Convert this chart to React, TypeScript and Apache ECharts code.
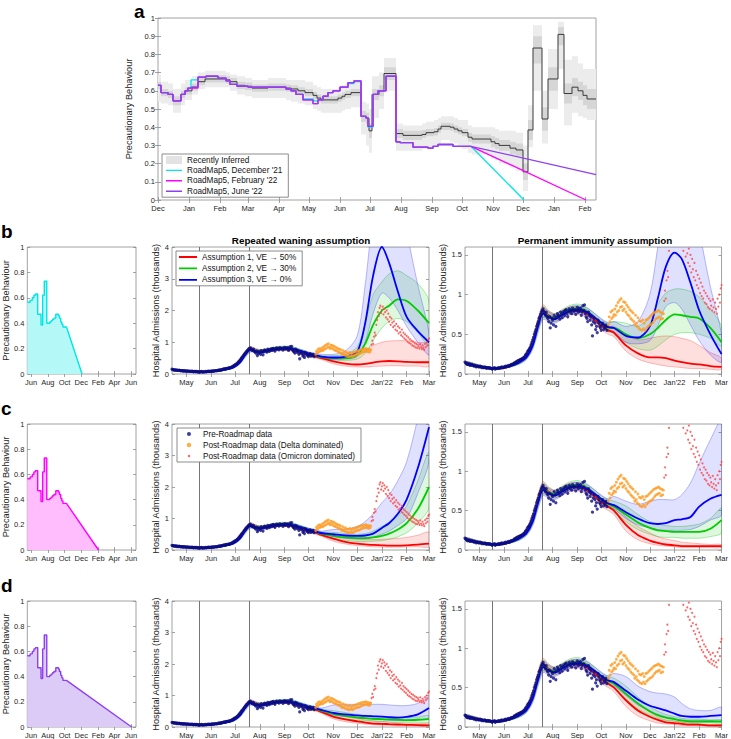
import React, { useEffect, useRef } from 'react';
import * as echarts from 'echarts';

const FONT = "'Liberation Sans', Arial, Helvetica, sans-serif";
const BOX = '#8c8c8c';
const INK = '#262626';

// ---------------- Panel a ----------------
const aMonthDays = [0, 31, 62, 90, 121, 151, 182, 212, 243, 274, 304, 335, 365, 396, 427];
const aMonthLabels = ['Dec', 'Jan', 'Feb', 'Mar', 'Apr', 'May', 'Jun', 'Jul', 'Aug', 'Sep', 'Oct', 'Nov', 'Dec', 'Jan', 'Feb'];
const aYTicks = [0, 0.1, 0.2, 0.3, 0.4, 0.5, 0.6, 0.7, 0.8, 0.9, 1];

const aDays = [0, 3, 10, 15, 23, 27, 34, 40, 47, 68,
  72, 79, 87, 94, 110, 128, 133, 140, 147, 155,
  159, 163, 180, 184, 187, 193, 203, 208, 211, 214,
  221, 226, 238, 245, 264, 268, 276, 280, 283, 292,
  296, 300, 304, 310, 314, 333, 337, 341, 352, 358,
  365, 370, 375, 384, 390, 400, 406, 414, 420, 425,
  429, 438];
const aInferred = [0.63, 0.59, 0.58, 0.545, 0.58, 0.60, 0.62, 0.65, 0.665, 0.66,
  0.65, 0.63, 0.625, 0.615, 0.62, 0.615, 0.61, 0.60, 0.59, 0.575,
  0.56, 0.55, 0.56, 0.57, 0.58, 0.59, 0.46, 0.45, 0.38, 0.58,
  0.60, 0.695, 0.365, 0.355, 0.36, 0.37, 0.375, 0.39, 0.405, 0.40,
  0.39, 0.38, 0.37, 0.345, 0.335, 0.32, 0.31, 0.30, 0.285, 0.275,
  0.155, 0.385, 0.835, 0.445, 0.665, 0.91, 0.585, 0.62, 0.60, 0.575,
  0.555, 0.555];
const aOuterLo = [0.54, 0.53, 0.52, 0.48, 0.52, 0.55, 0.58, 0.61, 0.62, 0.62,
  0.60, 0.58, 0.57, 0.56, 0.56, 0.55, 0.54, 0.53, 0.52, 0.50,
  0.49, 0.48, 0.48, 0.49, 0.50, 0.51, 0.36, 0.30, 0.26, 0.45,
  0.50, 0.60, 0.27, 0.27, 0.28, 0.29, 0.30, 0.31, 0.33, 0.32,
  0.31, 0.30, 0.28, 0.26, 0.25, 0.23, 0.22, 0.20, 0.18, 0.16,
  0.05, 0.29, 0.60, 0.31, 0.50, 0.72, 0.41, 0.48, 0.46, 0.45,
  0.44, 0.44];
const aOuterHi = [0.69, 0.65, 0.64, 0.61, 0.64, 0.66, 0.68, 0.70, 0.71, 0.70,
  0.69, 0.68, 0.67, 0.66, 0.67, 0.66, 0.66, 0.66, 0.65, 0.63,
  0.62, 0.61, 0.62, 0.63, 0.64, 0.65, 0.54, 0.53, 0.50, 0.68,
  0.70, 0.78, 0.42, 0.41, 0.42, 0.43, 0.44, 0.45, 0.46, 0.46,
  0.45, 0.44, 0.44, 0.41, 0.40, 0.40, 0.39, 0.38, 0.38, 0.37,
  0.30, 0.52, 0.96, 0.60, 0.83, 0.98, 0.77, 0.79, 0.75, 0.72,
  0.72, 0.72];
const aInnerLo = [0.61, 0.57, 0.56, 0.52, 0.56, 0.58, 0.60, 0.63, 0.645, 0.64,
  0.63, 0.61, 0.605, 0.595, 0.60, 0.595, 0.59, 0.58, 0.57, 0.555,
  0.54, 0.53, 0.54, 0.55, 0.56, 0.57, 0.43, 0.42, 0.34, 0.55,
  0.57, 0.66, 0.34, 0.33, 0.34, 0.35, 0.355, 0.37, 0.385, 0.38,
  0.37, 0.36, 0.35, 0.32, 0.31, 0.29, 0.28, 0.27, 0.25, 0.24,
  0.11, 0.33, 0.75, 0.38, 0.60, 0.85, 0.53, 0.57, 0.55, 0.52,
  0.50, 0.50];
const aInnerHi = [0.65, 0.61, 0.60, 0.57, 0.60, 0.62, 0.64, 0.67, 0.685, 0.68,
  0.67, 0.65, 0.645, 0.635, 0.64, 0.635, 0.63, 0.62, 0.61, 0.595,
  0.58, 0.57, 0.58, 0.59, 0.60, 0.61, 0.49, 0.48, 0.42, 0.61,
  0.63, 0.73, 0.39, 0.38, 0.385, 0.39, 0.395, 0.41, 0.425, 0.42,
  0.41, 0.40, 0.39, 0.37, 0.36, 0.35, 0.34, 0.33, 0.32, 0.31,
  0.20, 0.44, 0.90, 0.51, 0.73, 0.95, 0.64, 0.67, 0.65, 0.63,
  0.61, 0.61];

const rmDays = [0, 3, 10, 15, 23, 27, 30, 33, 40, 48,
  60, 68, 72, 79, 90, 120, 128, 133, 138, 145,
  155, 160, 165, 170, 175, 182, 190, 196, 203, 208,
  210, 215, 220, 228, 238, 242, 255, 270, 275, 280,
  295, 313];
const rmCyan = [0.63, 0.59, 0.58, 0.545, 0.58, 0.60, 0.615, 0.66, 0.675, 0.68,
  0.67, 0.655, 0.635, 0.625, 0.62, 0.62, 0.61, 0.60, 0.58, 0.555,
  0.545, 0.55, 0.57, 0.59, 0.60, 0.62, 0.64, 0.65, 0.46, 0.45,
  0.40, 0.58, 0.60, 0.68, 0.32, 0.315, 0.29, 0.285, 0.295, 0.305,
  0.295, 0.295];
const rmMagenta = [0.63, 0.59, 0.58, 0.545, 0.58, 0.60, 0.615, 0.615, 0.675, 0.68,
  0.67, 0.655, 0.635, 0.625, 0.62, 0.62, 0.61, 0.60, 0.58, 0.55,
  0.53, 0.55, 0.57, 0.59, 0.60, 0.62, 0.645, 0.655, 0.46, 0.45,
  0.405, 0.58, 0.60, 0.68, 0.32, 0.315, 0.29, 0.285, 0.295, 0.305,
  0.295, 0.295];
const rmPurple = [0.63, 0.59, 0.58, 0.545, 0.58, 0.60, 0.615, 0.62, 0.675, 0.68,
  0.67, 0.655, 0.635, 0.625, 0.62, 0.62, 0.61, 0.60, 0.58, 0.55,
  0.53, 0.55, 0.57, 0.59, 0.60, 0.62, 0.645, 0.655, 0.46, 0.45,
  0.405, 0.58, 0.60, 0.68, 0.32, 0.315, 0.29, 0.285, 0.295, 0.305,
  0.295, 0.295];
const projCyanDays = [313, 366];
const projCyanVals = [0.295, 0];
const projMagentaDays = [313, 428];
const projMagentaVals = [0.295, 0];
const projPurpleDays = [313, 438];
const projPurpleVals = [0.295, 0.14];

// ---------------- Left panels (b, c, d) ----------------
const leftMonthDays = [182, 243, 304, 365, 427, 486, 547];
const leftMonthLabels = ['Jun', 'Aug', 'Oct', 'Dec', 'Feb', 'Apr', 'Jun'];
const leftYTicks = [0, 0.2, 0.4, 0.6, 0.8, 1];
const leftDays = [168, 178, 186, 192, 198, 206, 218, 224, 230, 239, 250, 255, 260, 265, 272, 282, 285, 290, 294, 298, 311];
const leftVals = [0.565, 0.58, 0.60, 0.62, 0.63, 0.47, 0.385, 0.62, 0.73, 0.40, 0.41, 0.42, 0.43, 0.44, 0.47, 0.46, 0.44, 0.41, 0.39, 0.37, 0.37];
const leftEndB = [311, 368];
const leftEndC = [311, 428];
const leftEndD = [311, 549];
const leftEndVals = [0.37, 0];

// ---------------- Hospital admissions panels ----------------
const hMonthDays = [151, 182, 212, 243, 274, 304, 335, 365, 396, 427, 455];
const hMonthLabels = ['May', 'Jun', 'Jul', 'Aug', 'Sep', 'Oct', 'Nov', 'Dec', "Jan'22", 'Feb', 'Mar'];
const midYTicks = [0, 1, 2, 3, 4];
const rightYTicks = [0, 0.5, 1, 1.5];
const stepDays = [167, 230];

const preStart = 133;
const preData = [0.15, 0.14, 0.13, 0.12, 0.12, 0.13, 0.11, 0.12, 0.11, 0.12,
  0.11, 0.10, 0.11, 0.10, 0.09, 0.10, 0.10, 0.09, 0.09, 0.10,
  0.09, 0.08, 0.09, 0.08, 0.08, 0.09, 0.08, 0.07, 0.08, 0.08,
  0.07, 0.08, 0.07, 0.07, 0.06, 0.07, 0.07, 0.08, 0.06, 0.07,
  0.07, 0.07, 0.08, 0.07, 0.08, 0.08, 0.09, 0.08, 0.08, 0.09,
  0.09, 0.10, 0.09, 0.10, 0.10, 0.11, 0.10, 0.11, 0.12, 0.12,
  0.12, 0.13, 0.14, 0.14, 0.15, 0.16, 0.15, 0.17, 0.17, 0.18,
  0.18, 0.19, 0.19, 0.20, 0.21, 0.22, 0.24, 0.25, 0.27, 0.29,
  0.30, 0.32, 0.34, 0.37, 0.40, 0.43, 0.46, 0.50, 0.53, 0.56,
  0.60, 0.63, 0.66, 0.70, 0.72, 0.75, 0.78, 0.80, 0.82, 0.79,
  0.76, 0.74, 0.78, 0.72, 0.70, 0.66, 0.72, 0.58, 0.64, 0.70,
  0.68, 0.62, 0.74, 0.70, 0.60, 0.72, 0.76, 0.74, 0.73, 0.69,
  0.78, 0.75, 0.71, 0.77, 0.79, 0.74, 0.80, 0.81, 0.76, 0.72,
  0.79, 0.82, 0.78, 0.80, 0.76, 0.83, 0.80, 0.79, 0.81, 0.75,
  0.80, 0.84, 0.78, 0.82, 0.79, 0.83, 0.74, 0.78, 0.86, 0.80,
  0.87, 0.76, 0.72, 0.70, 0.66, 0.78, 0.74, 0.68, 0.72, 0.62,
  0.48, 0.66, 0.70, 0.64, 0.56, 0.60, 0.52, 0.68, 0.64, 0.60,
  0.58, 0.55, 0.62, 0.64, 0.56, 0.60, 0.58, 0.62, 0.55, 0.60];
const deltaStart = 313;
const deltaData = [0.62, 0.72, 0.66, 0.78, 0.70, 0.80, 0.72, 0.75, 0.82, 0.74,
  0.86, 0.78, 0.90, 0.80, 0.93, 0.84, 0.95, 0.85, 0.80, 0.91,
  0.82, 0.90, 0.78, 0.87, 0.75, 0.84, 0.73, 0.81, 0.70, 0.79,
  0.68, 0.77, 0.66, 0.62, 0.74, 0.64, 0.60, 0.71, 0.58, 0.67,
  0.56, 0.66, 0.55, 0.68, 0.57, 0.64, 0.55, 0.68, 0.58, 0.69,
  0.60, 0.71, 0.62, 0.73, 0.63, 0.75, 0.65, 0.77, 0.68, 0.78,
  0.70, 0.79, 0.71, 0.80, 0.72, 0.78, 0.69, 0.77, 0.70, 0.76];
const omicronStart = 383;
const omicronData = [0.92, 1.05, 0.95, 1.18, 1.30, 1.22, 1.55, 1.70, 1.95, 1.82,
  2.08, 2.15, 1.92, 2.02, 2.12, 1.88, 2.05, 1.95, 1.78, 2.00,
  1.72, 1.90, 1.65, 1.80, 1.55, 1.75, 1.62, 1.48, 1.66, 1.52,
  1.40, 1.58, 1.36, 1.50, 1.28, 1.45, 1.32, 1.22, 1.40, 1.18,
  1.30, 1.12, 1.25, 1.08, 1.20, 1.02, 1.15, 0.98, 1.10, 0.95,
  1.05, 0.90, 1.02, 0.88, 0.98, 0.84, 0.95, 0.82, 0.92, 0.86,
  0.80, 0.94, 0.84, 0.78, 0.90, 0.82, 0.76, 0.95, 0.85, 1.00,
  0.90, 1.08, 1.12];

// model fit (shared pre-October segment)
const fitDays = [133, 145, 160, 175, 190, 200, 210, 218, 225, 231, 238, 246, 256, 266, 276, 286, 296, 305, 313];
const fitRed = [0.14, 0.11, 0.08, 0.07, 0.10, 0.15, 0.23, 0.40, 0.65, 0.80, 0.74, 0.71, 0.76, 0.80, 0.80, 0.76, 0.68, 0.60, 0.55];
const fitRedLo = [0.12, 0.10, 0.07, 0.06, 0.09, 0.13, 0.20, 0.35, 0.58, 0.72, 0.68, 0.66, 0.71, 0.75, 0.75, 0.71, 0.63, 0.55, 0.50];
const fitRedHi = [0.16, 0.13, 0.09, 0.08, 0.11, 0.17, 0.26, 0.45, 0.72, 0.87, 0.80, 0.76, 0.81, 0.85, 0.85, 0.81, 0.73, 0.65, 0.60];
const fitGreen = [0.14, 0.11, 0.08, 0.07, 0.10, 0.14, 0.22, 0.38, 0.63, 0.78, 0.73, 0.71, 0.77, 0.82, 0.83, 0.79, 0.71, 0.63, 0.58];
const fitGreenLo = [0.12, 0.10, 0.07, 0.06, 0.09, 0.12, 0.19, 0.33, 0.56, 0.71, 0.68, 0.66, 0.72, 0.77, 0.78, 0.74, 0.66, 0.58, 0.53];
const fitGreenHi = [0.16, 0.13, 0.09, 0.08, 0.11, 0.16, 0.25, 0.43, 0.70, 0.85, 0.79, 0.76, 0.82, 0.87, 0.88, 0.84, 0.76, 0.68, 0.64];
const fitBlue = [0.14, 0.11, 0.08, 0.07, 0.10, 0.14, 0.21, 0.36, 0.61, 0.76, 0.72, 0.69, 0.75, 0.80, 0.81, 0.78, 0.71, 0.64, 0.59];
const fitBlueLo = [0.12, 0.10, 0.07, 0.06, 0.09, 0.12, 0.18, 0.31, 0.53, 0.69, 0.66, 0.64, 0.70, 0.75, 0.76, 0.73, 0.66, 0.59, 0.54];
const fitBlueHi = [0.16, 0.13, 0.09, 0.08, 0.11, 0.16, 0.24, 0.41, 0.68, 0.83, 0.78, 0.74, 0.80, 0.85, 0.86, 0.83, 0.76, 0.69, 0.65];

// projections (from mid-October)
const projDays = [320, 335, 350, 365, 375, 385, 396, 405, 416, 427, 441, 455];

const bMidRed = [0.50, 0.40, 0.33, 0.30, 0.32, 0.36, 0.40, 0.41, 0.40, 0.38, 0.37, 0.37];
const bMidRedLo = [0.46, 0.32, 0.25, 0.22, 0.22, 0.24, 0.25, 0.26, 0.26, 0.25, 0.25, 0.25];
const bMidRedHi = [0.56, 0.50, 0.50, 0.60, 0.75, 0.90, 1.00, 1.04, 1.05, 1.05, 1.00, 0.92];
const bMidGreen = [0.53, 0.50, 0.50, 0.60, 0.95, 1.55, 2.00, 2.15, 2.35, 2.30, 2.00, 1.60];
const bMidGreenLo = [0.49, 0.44, 0.43, 0.47, 0.65, 1.05, 1.45, 1.65, 1.75, 1.65, 1.30, 0.90];
const bMidGreenHi = [0.58, 0.58, 0.62, 0.85, 1.60, 2.50, 2.90, 3.15, 3.25, 3.10, 2.85, 2.30];
const bMidBlue = [0.55, 0.52, 0.55, 0.70, 1.60, 3.10, 4.00, 3.50, 2.60, 1.80, 1.35, 1.00];
const bMidBlueLo = [0.50, 0.45, 0.47, 0.55, 1.00, 1.90, 2.55, 2.40, 2.00, 1.50, 1.00, 0.60];
const bMidBlueHi = [0.62, 0.62, 0.72, 1.20, 2.80, 5.00, 6.50, 6.50, 6.00, 4.50, 2.80, 1.30];

const bRightRed = [0.52, 0.36, 0.26, 0.21, 0.21, 0.20, 0.17, 0.15, 0.13, 0.12, 0.10, 0.09];
const bRightRedLo = [0.47, 0.29, 0.19, 0.14, 0.12, 0.10, 0.09, 0.08, 0.07, 0.07, 0.06, 0.06];
const bRightRedHi = [0.60, 0.50, 0.43, 0.45, 0.47, 0.48, 0.47, 0.45, 0.42, 0.36, 0.27, 0.20];
const bRightGreen = [0.58, 0.50, 0.45, 0.50, 0.58, 0.68, 0.75, 0.74, 0.72, 0.70, 0.58, 0.40];
const bRightGreenLo = [0.52, 0.40, 0.32, 0.30, 0.35, 0.43, 0.50, 0.52, 0.52, 0.50, 0.45, 0.35];
const bRightGreenHi = [0.66, 0.64, 0.60, 0.72, 0.88, 1.02, 1.07, 1.07, 1.04, 0.97, 0.82, 0.60];
const bRightBlue = [0.58, 0.48, 0.46, 0.60, 0.95, 1.35, 1.53, 1.45, 1.15, 0.80, 0.50, 0.25];
const bRightBlueLo = [0.52, 0.40, 0.38, 0.42, 0.60, 0.85, 0.90, 0.82, 0.62, 0.42, 0.24, 0.15];
const bRightBlueHi = [0.66, 0.60, 0.66, 1.00, 1.60, 2.20, 2.50, 2.50, 2.30, 1.80, 1.10, 0.50];

const cMidRed = [0.48, 0.36, 0.26, 0.20, 0.18, 0.16, 0.15, 0.14, 0.14, 0.15, 0.17, 0.20];
const cMidRedLo = [0.44, 0.28, 0.19, 0.14, 0.12, 0.10, 0.09, 0.09, 0.09, 0.10, 0.10, 0.11];
const cMidRedHi = [0.54, 0.46, 0.40, 0.35, 0.34, 0.33, 0.34, 0.35, 0.37, 0.40, 0.47, 0.56];
const cMidGreen = [0.52, 0.45, 0.40, 0.38, 0.38, 0.40, 0.45, 0.52, 0.65, 0.85, 1.30, 2.00];
const cMidGreenLo = [0.48, 0.36, 0.30, 0.27, 0.27, 0.28, 0.30, 0.34, 0.42, 0.55, 0.85, 1.35];
const cMidGreenHi = [0.57, 0.56, 0.52, 0.50, 0.52, 0.60, 0.75, 0.88, 1.08, 1.40, 2.20, 3.10];
const cMidBlue = [0.54, 0.50, 0.46, 0.45, 0.46, 0.52, 0.70, 0.85, 1.15, 1.60, 2.60, 3.90];
const cMidBlueLo = [0.50, 0.42, 0.37, 0.35, 0.35, 0.40, 0.50, 0.60, 0.78, 1.00, 1.80, 2.85];
const cMidBlueHi = [0.60, 0.65, 0.66, 0.75, 0.90, 1.15, 1.50, 1.75, 2.20, 2.80, 4.20, 6.00];

const cRightRed = [0.50, 0.32, 0.19, 0.12, 0.09, 0.07, 0.06, 0.05, 0.05, 0.05, 0.05, 0.05];
const cRightRedLo = [0.45, 0.24, 0.13, 0.08, 0.06, 0.05, 0.04, 0.03, 0.03, 0.03, 0.03, 0.03];
const cRightRedHi = [0.57, 0.42, 0.30, 0.22, 0.17, 0.14, 0.12, 0.10, 0.09, 0.08, 0.07, 0.07];
const cRightGreen = [0.55, 0.45, 0.35, 0.28, 0.25, 0.24, 0.23, 0.23, 0.23, 0.23, 0.27, 0.38];
const cRightGreenLo = [0.50, 0.36, 0.26, 0.20, 0.17, 0.16, 0.16, 0.15, 0.15, 0.15, 0.17, 0.22];
const cRightGreenHi = [0.62, 0.56, 0.45, 0.36, 0.33, 0.31, 0.30, 0.30, 0.31, 0.33, 0.40, 0.53];
const cRightBlue = [0.57, 0.48, 0.40, 0.34, 0.33, 0.34, 0.38, 0.39, 0.42, 0.55, 0.65, 0.70];
const cRightBlueLo = [0.52, 0.40, 0.32, 0.28, 0.26, 0.25, 0.25, 0.25, 0.26, 0.30, 0.38, 0.45];
const cRightBlueHi = [0.68, 0.62, 0.58, 0.62, 0.64, 0.64, 0.64, 0.70, 0.85, 1.10, 1.40, 1.65];

const dMidRed = [0.48, 0.33, 0.24, 0.18, 0.14, 0.11, 0.10, 0.09, 0.08, 0.07, 0.06, 0.05];
const dMidRedLo = [0.44, 0.26, 0.17, 0.12, 0.09, 0.07, 0.06, 0.05, 0.04, 0.04, 0.03, 0.03];
const dMidRedHi = [0.53, 0.42, 0.34, 0.27, 0.23, 0.20, 0.18, 0.15, 0.13, 0.12, 0.11, 0.10];
const dMidGreen = [0.52, 0.42, 0.35, 0.30, 0.28, 0.26, 0.25, 0.24, 0.23, 0.22, 0.23, 0.25];
const dMidGreenLo = [0.48, 0.35, 0.26, 0.20, 0.19, 0.18, 0.17, 0.16, 0.15, 0.15, 0.15, 0.15];
const dMidGreenHi = [0.57, 0.52, 0.46, 0.40, 0.37, 0.35, 0.33, 0.32, 0.31, 0.30, 0.32, 0.36];
const dMidBlue = [0.54, 0.45, 0.40, 0.37, 0.35, 0.34, 0.33, 0.31, 0.30, 0.32, 0.40, 0.60];
const dMidBlueLo = [0.50, 0.38, 0.33, 0.30, 0.27, 0.25, 0.23, 0.21, 0.20, 0.20, 0.23, 0.30];
const dMidBlueHi = [0.60, 0.70, 0.72, 0.72, 0.72, 0.72, 0.72, 0.70, 0.68, 0.68, 0.75, 0.95];

const dRightRed = [0.50, 0.34, 0.21, 0.13, 0.09, 0.06, 0.05, 0.04, 0.03, 0.03, 0.02, 0.02];
const dRightRedLo = [0.45, 0.26, 0.14, 0.08, 0.05, 0.04, 0.03, 0.02, 0.02, 0.02, 0.01, 0.01];
const dRightRedHi = [0.57, 0.43, 0.30, 0.19, 0.13, 0.09, 0.08, 0.06, 0.05, 0.04, 0.03, 0.03];
const dRightGreen = [0.55, 0.42, 0.30, 0.20, 0.15, 0.12, 0.10, 0.08, 0.07, 0.07, 0.07, 0.07];
const dRightGreenLo = [0.50, 0.35, 0.23, 0.15, 0.11, 0.08, 0.07, 0.06, 0.05, 0.05, 0.05, 0.05];
const dRightGreenHi = [0.62, 0.52, 0.38, 0.26, 0.20, 0.16, 0.13, 0.11, 0.10, 0.10, 0.09, 0.09];
const dRightBlue = [0.57, 0.46, 0.35, 0.27, 0.24, 0.21, 0.17, 0.14, 0.13, 0.13, 0.14, 0.15];
const dRightBlueLo = [0.52, 0.40, 0.28, 0.20, 0.16, 0.13, 0.10, 0.09, 0.08, 0.08, 0.08, 0.08];
const dRightBlueHi = [0.68, 0.64, 0.52, 0.45, 0.43, 0.42, 0.38, 0.30, 0.23, 0.21, 0.21, 0.25];

const legendANames = ['Recently Inferred', "RoadMap5, December '21", "RoadMap5, February '22", "RoadMap5, June '22"];
const assumptionNames = ['Assumption 1, VE \u2192 50%', 'Assumption 2, VE \u2192 30%', 'Assumption 3, VE \u2192 0%'];
const dataNames = ['Pre-Roadmap data', 'Post-Roadmap data (Delta dominated)', 'Post-Roadmap data (Omicron dominated)'];

// ---------------- styling ----------------
const CYAN = '#00e6e6';
const MAG = '#ff00ff';
const PUR = '#8f40ee';
const CYAN_F = '#b4f8f8';
const MAG_F = '#ffbdfd';
const PUR_F = '#dccbf6';
const NAVY = '#0c0c84';
const ORANGE = '#ff9a1f';
const OMI = '#ff4a4a';
const MODEL = [
  { line: '#ff0000', fill: 'rgba(255,0,0,0.13)', edge: 'rgba(255,40,40,0.45)' },
  { line: '#00cc00', fill: 'rgba(0,200,0,0.13)', edge: 'rgba(0,190,0,0.45)' },
  { line: '#0000ff', fill: 'rgba(0,0,255,0.12)', edge: 'rgba(40,40,255,0.45)' },
];

const LINE16 = 'path://M0,0h0.01v0.01h-0.01zM16,8h0.01v0.01h-0.01zM0,3.3h16v1.4h-16z';
const LINE18 = 'path://M0,0h0.01v0.01h-0.01zM18,8h0.01v0.01h-0.01zM0,3.1h18v1.8h-18z';
const DOT_PRE = 'path://M0,0h0.01v0.01h-0.01zM18,8h0.01v0.01h-0.01zM7,4a2,2 0 1,0 4,0a2,2 0 1,0 -4,0z';
const DOT_DELTA = 'path://M0,0h0.01v0.01h-0.01zM18,8h0.01v0.01h-0.01zM6.7,4a2.3,2.3 0 1,0 4.6,0a2.3,2.3 0 1,0 -4.6,0z';
const DOT_OMI = 'path://M0,0h0.01v0.01h-0.01zM18,8h0.01v0.01h-0.01zM7.8,4a1.2,1.2 0 1,0 2.4,0a1.2,1.2 0 1,0 -2.4,0z';

function xAx(gridIndex: number, min: number, max: number, ticks: number[], labels: string[], top = false) {
  return {
    type: 'value', gridIndex, min, max, position: top ? 'top' : 'bottom',
    axisLine: { show: false },
    splitLine: { show: false },
    axisTick: { show: true, inside: true, length: 3, lineStyle: { color: BOX, width: 0.8 }, customValues: ticks },
    axisLabel: {
      show: !top, customValues: ticks,
      formatter: (v: number) => { const i = ticks.indexOf(v); return i >= 0 ? labels[i] : ''; },
      fontSize: 7.5, color: INK, fontFamily: FONT, margin: 4,
    },
  };
}

function yAx(gridIndex: number, min: number, max: number, ticks: number[], name: string, nameGap: number, right = false) {
  return {
    type: 'value', gridIndex, min, max, position: right ? 'right' : 'left',
    axisLine: { show: false },
    splitLine: { show: false },
    axisTick: { show: true, inside: true, length: 3, lineStyle: { color: BOX, width: 0.8 }, customValues: ticks },
    axisLabel: { show: !right, customValues: ticks, formatter: (v: number) => String(v), fontSize: 7.5, color: INK, fontFamily: FONT, margin: 3 },
    name: right ? '' : name, nameLocation: 'middle', nameGap,
    nameTextStyle: { fontSize: 9.2, color: INK, fontFamily: FONT },
  };
}

function smoothBand(days: number[], lo: number[], hi: number[], fill: string, stroke: string) {
  return (params: any, api: any) => {
    if (params.dataIndex !== 0) return null;
    const up = days.map((d, i) => api.coord([d, hi[i]]));
    const dn = days.map((d, i) => api.coord([d, lo[i]])).reverse();
    return {
      type: 'polygon',
      shape: { points: up.concat(dn), smooth: 0.3 },
      style: { fill, stroke, lineWidth: 0.7 },
    };
  };
}

function stepBand(days: number[], lo: number[], hi: number[], fill: string) {
  return (params: any, api: any) => {
    if (params.dataIndex !== 0) return null;
    const up: number[][] = [];
    const dn: number[][] = [];
    for (let i = 0; i < days.length; i++) {
      const x1 = i < days.length - 1 ? days[i + 1] : days[i];
      up.push(api.coord([days[i], hi[i]]), api.coord([x1, hi[i]]));
      dn.push(api.coord([days[i], lo[i]]), api.coord([x1, lo[i]]));
    }
    return { type: 'polygon', shape: { points: up.concat(dn.reverse()) }, style: { fill } };
  };
}

const pairs = (xs: number[], ys: number[]) => xs.map((x, i) => [x, ys[i]]);
const daily = (start: number, ys: number[]) => ys.map((y, i) => [start + i, y]);

function hospSeries(gi: number, proj: number[][][]) {
  const days = fitDays.concat(projDays);
  const fits = [[fitRed, fitRedLo, fitRedHi], [fitGreen, fitGreenLo, fitGreenHi], [fitBlue, fitBlueLo, fitBlueHi]];
  const out: any[] = [];
  for (let k = 0; k < 3; k++) {
    const lo = fits[k][1].concat(proj[k][1]);
    const hi = fits[k][2].concat(proj[k][2]);
    out.push({
      type: 'custom', name: 'band-' + gi + '-' + k, xAxisIndex: gi, yAxisIndex: gi,
      clip: true, silent: true, z: 2,
      data: days.map((d, i) => [d, lo[i], hi[i]]), encode: { x: 0, y: [1, 2] },
      renderItem: smoothBand(days, lo, hi, MODEL[k].fill, MODEL[k].edge),
    });
  }
  for (let k = 0; k < 3; k++) {
    const med = fits[k][0].concat(proj[k][0]);
    out.push({
      type: 'line', name: assumptionNames[k], xAxisIndex: gi, yAxisIndex: gi,
      data: pairs(days, med), smooth: 0.3, showSymbol: false, symbol: 'none', clip: true, silent: true, z: 3,
      lineStyle: { color: MODEL[k].line, width: 1.8 }, itemStyle: { color: MODEL[k].line },
    });
  }
  out.push({
    type: 'scatter', name: dataNames[0], xAxisIndex: gi, yAxisIndex: gi, clip: true, silent: true, z: 4,
    data: daily(preStart, preData), symbolSize: 3.2, itemStyle: { color: NAVY },
    markLine: {
      silent: true, symbol: ['none', 'none'], label: { show: false }, z: 1,
      lineStyle: { color: '#666', width: 0.9, type: 'solid' },
      data: stepDays.map((d) => ({ xAxis: d })),
    },
  });
  out.push({
    type: 'scatter', name: dataNames[1], xAxisIndex: gi, yAxisIndex: gi, clip: true, silent: true, z: 4,
    data: daily(deltaStart, deltaData), symbolSize: 2.9, itemStyle: { color: ORANGE },
  });
  out.push({
    type: 'scatter', name: dataNames[2], xAxisIndex: gi, yAxisIndex: gi, clip: true, silent: true, z: 4,
    data: daily(omicronStart, omicronData), symbolSize: 2, itemStyle: { color: OMI, opacity: 0.85 },
  });
  return out;
}

function leftSeries(gi: number, endDays: number[], line: string, fill: string) {
  // stepped curve followed by the straight decline, built from the arrays
  const pts: number[][] = [];
  for (let i = 0; i < leftDays.length; i++) {
    pts.push([leftDays[i], leftVals[i]]);
    if (i < leftDays.length - 1) pts.push([leftDays[i + 1], leftVals[i]]);
  }
  pts.push([endDays[1], leftEndVals[1]]);
  return [
    {
      type: 'line', name: 'left-' + gi, xAxisIndex: gi, yAxisIndex: gi,
      data: pts, showSymbol: false, symbol: 'none', silent: true,
      lineStyle: { color: line, width: 1.4 }, itemStyle: { color: line },
      areaStyle: { color: fill, opacity: 1 },
    },
  ];
}

function buildOption() {
  const rowTops = [247, 424, 601];
  const rowH = [127, 126, 126];
  const grids: any[] = [{ left: 158, top: 18, width: 438, height: 182 }];
  rowTops.forEach((t, r) => {
    grids.push({ left: 25, top: t, width: 111, height: rowH[r] });
    grids.push({ left: 172, top: t, width: 257, height: rowH[r] });
    grids.push({ left: 465, top: t, width: 260, height: rowH[r] });
  });
  const grid = grids.map((g) => ({ ...g, show: true, borderColor: BOX, borderWidth: 0.8, backgroundColor: 'transparent' }));

  const xAxis: any[] = [xAx(0, 0, 438, aMonthDays, aMonthLabels)];
  const yAxis: any[] = [yAx(0, 0, 1, aYTicks, 'Precautionary Behaviour', 16)];
  for (let r = 0; r < 3; r++) {
    const b = 1 + r * 3;
    xAxis.push(xAx(b, 168, 565, leftMonthDays, leftMonthLabels));
    yAxis.push(yAx(b, 0, 1, leftYTicks, 'Precautionary Behaviour', 13));
    xAxis.push(xAx(b + 1, 133, 455, hMonthDays, hMonthLabels));
    yAxis.push(yAx(b + 1, 0, 4, midYTicks, 'Hospital Admissions (thousands)', 12));
    xAxis.push(xAx(b + 2, 133, 455, hMonthDays, hMonthLabels));
    yAxis.push(yAx(b + 2, 0, 1.6, rightYTicks, 'Hospital Admissions (thousands)', 15));
  }
  // mirrored tick marks on the top and right edges of every box
  const nPrimary = xAxis.length;
  for (let g = 0; g < nPrimary; g++) {
    const xa = xAxis[g];
    const ya = yAxis[g];
    xAxis.push(xAx(g, xa.min, xa.max, xa.axisTick.customValues, [], true));
    yAxis.push(yAx(g, ya.min, ya.max, ya.axisTick.customValues, '', 0, true));
  }

  const series: any[] = [
    {
      type: 'custom', name: legendANames[0], xAxisIndex: 0, yAxisIndex: 0, clip: true, silent: true, z: 1,
      data: aDays.map((d, i) => [d, aOuterLo[i], aOuterHi[i]]), encode: { x: 0, y: [1, 2] },
      itemStyle: { color: '#e3e3e3' },
      renderItem: stepBand(aDays, aOuterLo, aOuterHi, '#ececec'),
    },
    {
      type: 'custom', name: 'a-inner', xAxisIndex: 0, yAxisIndex: 0, clip: true, silent: true, z: 1,
      data: aDays.map((d, i) => [d, aInnerLo[i], aInnerHi[i]]), encode: { x: 0, y: [1, 2] },
      renderItem: stepBand(aDays, aInnerLo, aInnerHi, '#d6d6d6'),
    },
    {
      type: 'line', name: 'a-inferred', xAxisIndex: 0, yAxisIndex: 0, step: 'end', silent: true,
      data: pairs(aDays, aInferred), showSymbol: false, symbol: 'none',
      lineStyle: { color: '#3a3a3a', width: 1 }, itemStyle: { color: '#3a3a3a' },
    },
  ];
  const rm = [
    { name: legendANames[1], color: CYAN, vals: rmCyan, pd: projCyanDays, pv: projCyanVals },
    { name: legendANames[2], color: MAG, vals: rmMagenta, pd: projMagentaDays, pv: projMagentaVals },
    { name: legendANames[3], color: PUR, vals: rmPurple, pd: projPurpleDays, pv: projPurpleVals },
  ];
  rm.forEach((s) => {
    series.push({
      type: 'line', name: s.name, xAxisIndex: 0, yAxisIndex: 0, step: 'end', silent: true,
      data: pairs(rmDays, s.vals), showSymbol: false, symbol: 'none',
      lineStyle: { color: s.color, width: 1.3 }, itemStyle: { color: s.color },
    });
  });
  rm.forEach((s) => {
    series.push({
      type: 'line', name: s.name, xAxisIndex: 0, yAxisIndex: 0, silent: true, clip: true,
      data: pairs(s.pd, s.pv), showSymbol: false, symbol: 'none',
      lineStyle: { color: s.color, width: 1.3 }, itemStyle: { color: s.color },
    });
  });

  const leftCfg = [
    { end: leftEndB, line: CYAN, fill: CYAN_F },
    { end: leftEndC, line: MAG, fill: MAG_F },
    { end: leftEndD, line: PUR, fill: PUR_F },
  ];
  const mids = [
    [[bMidRed, bMidRedLo, bMidRedHi], [bMidGreen, bMidGreenLo, bMidGreenHi], [bMidBlue, bMidBlueLo, bMidBlueHi]],
    [[cMidRed, cMidRedLo, cMidRedHi], [cMidGreen, cMidGreenLo, cMidGreenHi], [cMidBlue, cMidBlueLo, cMidBlueHi]],
    [[dMidRed, dMidRedLo, dMidRedHi], [dMidGreen, dMidGreenLo, dMidGreenHi], [dMidBlue, dMidBlueLo, dMidBlueHi]],
  ];
  const rights = [
    [[bRightRed, bRightRedLo, bRightRedHi], [bRightGreen, bRightGreenLo, bRightGreenHi], [bRightBlue, bRightBlueLo, bRightBlueHi]],
    [[cRightRed, cRightRedLo, cRightRedHi], [cRightGreen, cRightGreenLo, cRightGreenHi], [cRightBlue, cRightBlueLo, cRightBlueHi]],
    [[dRightRed, dRightRedLo, dRightRedHi], [dRightGreen, dRightGreenLo, dRightGreenHi], [dRightBlue, dRightBlueLo, dRightBlueHi]],
  ];
  for (let r = 0; r < 3; r++) {
    const b = 1 + r * 3;
    series.push(...leftSeries(b, leftCfg[r].end, leftCfg[r].line, leftCfg[r].fill));
    series.push(...hospSeries(b + 1, mids[r]));
    series.push(...hospSeries(b + 2, rights[r]));
  }

  const legendCommon = {
    orient: 'vertical', selectedMode: false, backgroundColor: '#fff', z: 20,
    borderColor: '#707070', borderWidth: 0.8, itemHeight: 8,
    itemStyle: { borderWidth: 0 },
    textStyle: { fontSize: 8.2, color: '#111', fontFamily: FONT, lineHeight: 8 },
  };
  const legend = [
    {
      ...legendCommon, left: 162, top: 154, itemWidth: 16, itemGap: 2.4, padding: [2, 6, 2, 4],
      data: [
        { name: legendANames[0], icon: 'rect', itemStyle: { color: '#e3e3e3' } },
        { name: legendANames[1], icon: LINE16, itemStyle: { color: CYAN } },
        { name: legendANames[2], icon: LINE16, itemStyle: { color: MAG } },
        { name: legendANames[3], icon: LINE16, itemStyle: { color: PUR } },
      ],
    },
    {
      ...legendCommon, left: 176, top: 251, itemWidth: 18, itemGap: 3.4, padding: [2, 6, 2, 3],
      data: assumptionNames.map((n, k) => ({ name: n, icon: LINE18, itemStyle: { color: MODEL[k].line } })),
    },
    {
      ...legendCommon, left: 177, top: 428, itemWidth: 18, itemGap: 3, padding: [2, 6, 2, 3],
      data: [
        { name: dataNames[0], icon: DOT_PRE, itemStyle: { color: NAVY } },
        { name: dataNames[1], icon: DOT_DELTA, itemStyle: { color: ORANGE } },
        { name: dataNames[2], icon: DOT_OMI, itemStyle: { color: OMI } },
      ],
    },
  ];

  const letter = (t: string, x: number, y: number) => ({
    type: 'text', x, y, silent: true,
    style: { text: t, fontSize: 19, fontWeight: 'bold', fontFamily: FONT, fill: '#000', align: 'left', verticalAlign: 'middle' },
  });
  const title = (t: string, x: number, y: number) => ({
    type: 'text', x, y, silent: true,
    style: { text: t, fontSize: 9.8, fontWeight: 'bold', fontFamily: FONT, fill: '#000', align: 'center', verticalAlign: 'middle' },
  });

  return {
    animation: false,
    backgroundColor: '#fff',
    textStyle: { fontFamily: FONT },
    grid, xAxis, yAxis, series, legend,
    graphic: [
      letter('a', 134, 11),
      letter('b', 1, 231),
      letter('c', 1, 408),
      letter('d', 1, 585),
      title('Repeated waning assumption', 301, 240),
      title('Permanent immunity assumption', 595, 240),
    ],
  };
}

export default function App() {
  const ref = useRef<HTMLDivElement>(null);
  useEffect(() => {
    if (!ref.current) return;
    const chart = echarts.init(ref.current, null, { renderer: 'svg' });
    chart.setOption(buildOption() as any);
    return () => chart.dispose();
  }, []);
  return <div ref={ref} style={{ position: 'absolute', left: 0, top: 0, width: 731, height: 739, background: '#fff' }} />;
}
